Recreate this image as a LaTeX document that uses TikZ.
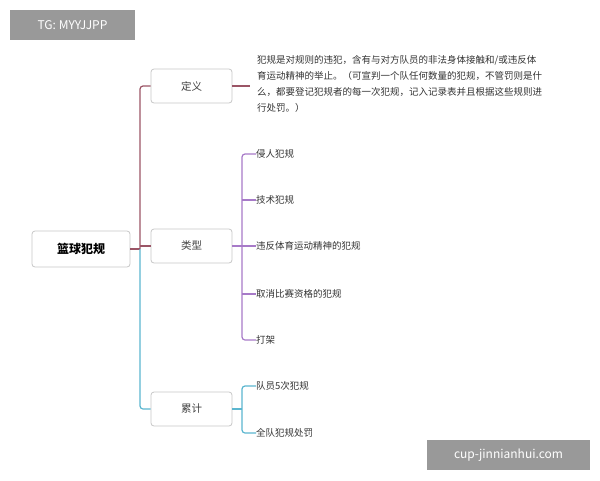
\documentclass[tikz,border=0pt]{standalone}
\usepackage{fontspec}
\setmainfont{Noto Sans CJK SC}
\begin{document}
\begin{tikzpicture}[x=1pt,y=-1pt,
 box/.style={draw=black!22,line width=0.8pt,rounded corners=3pt,fill=white,minimum width=81pt,minimum height=34pt,font=\fontsize{10.5}{12}\selectfont,text=black!75},
 leaf/.style={anchor=west,inner sep=0pt,font=\fontsize{9.5}{12}\selectfont,text=black!80},
 ln/.style={line width=1.2pt},
 wm/.style={fill=black!40,text=white,inner sep=0pt,font=\fontsize{12}{14}\selectfont}]
\useasboundingbox (0,0) rectangle (600,480);
\definecolor{mar}{HTML}{9B5566}
\definecolor{pur}{HTML}{A77AC8}
\definecolor{tea}{HTML}{5BB6CF}
\node[box,minimum width=98pt,minimum height=36pt,font=\bfseries\fontsize{12}{14}\selectfont,text=black] (root) at (81,249) {篮球犯规};
\node[box] (def) at (191.5,86) {定义};
\node[box] (typ) at (191.5,246) {类型};
\node[box] (cnt) at (191.5,409) {累计};
\coordinate (t) at (140,249);
\draw[mar,ln] (root.east) -- (t);
\draw[mar,ln,rounded corners=3pt] (t) |- (def.west);
\draw[mar,ln] (140,246) -- (typ.west);
\draw[tea,ln,rounded corners=3pt] (t) |- (cnt.west);
% definition
\coordinate (dj) at (250,86);
\draw[mar,ln] (def.east) -- (dj);
\node[leaf,anchor=north west,align=left,font=\fontsize{9.5}{16}\selectfont] (dtext) at (257,55) {犯规是对规则的违犯，含有与对方队员的非法身体接触和/或违反体\\育运动精神的举止。（可宣判一个队任何数量的犯规，不管罚则是什\\么，都要登记犯规者的每一次犯规，记入记录表并且根据这些规则进\\行处罚。）};
% types
\node[leaf] (a1) at (256,154) {侵人犯规};
\node[leaf] (a2) at (256,200) {技术犯规};
\node[leaf] (a3) at (256,246) {违反体育运动精神的犯规};
\node[leaf] (a4) at (256,294) {取消比赛资格的犯规};
\node[leaf] (a5) at (256,340) {打架};
\draw[pur,ln] (typ.east) -- (a3.west);
\draw[pur,ln,rounded corners=3pt] (a1.west) -- (242,154) -- (242,340) -- (a5.west);
\draw[pur,ln] (242,200) -- (a2.west) (242,294) -- (a4.west);
% count
\node[leaf] (b1) at (256,386) {队员5次犯规};
\node[leaf] (b2) at (256,433) {全队犯规处罚};
\draw[tea,ln] (cnt.east) -- (242,409);
\draw[tea,ln,rounded corners=3pt] (b1.west) -- (242,386) -- (242,433) -- (b2.west);
% watermarks
\node[wm,minimum width=125pt,minimum height=30pt] (w1) at (72.5,25) {TG: MYYJJPP};
\node[wm,minimum width=163pt,minimum height=30pt] (w2) at (508.5,455) {cup-jinnianhui.com};
\end{tikzpicture}
\end{document}
